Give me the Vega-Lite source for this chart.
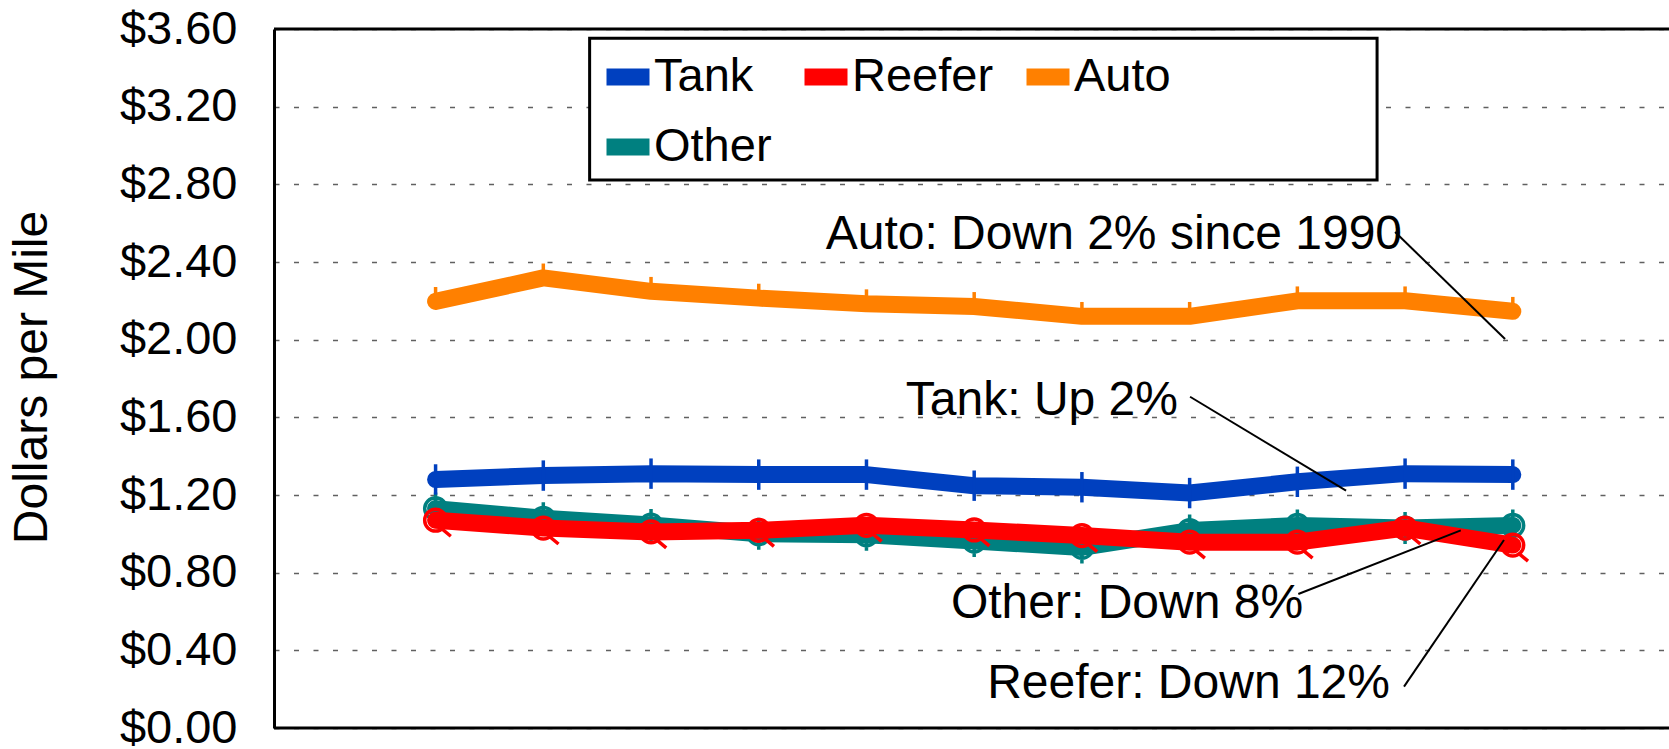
{
  "$schema": "https://vega.github.io/schema/vega-lite/v6.json",
  "autosize": {"type": "none"},
  "padding": {"left": 274, "top": 29, "right": 0, "bottom": 21},
  "width": 1395,
  "height": 699,
  "background": "white",
  "config": {"view": {"stroke": null}, "font": "Liberation Sans"},
  "resolve": {"axis": {"x": "independent", "y": "independent"}, "legend": {"color": "independent", "shape": "independent"}},
  "datasets": {
    "rates": [
      {"series": "Other", "year": 1990, "value": 1.13},
      {"series": "Other", "year": 1991, "value": 1.08},
      {"series": "Other", "year": 1992, "value": 1.045},
      {"series": "Other", "year": 1993, "value": 1.0},
      {"series": "Other", "year": 1994, "value": 0.995},
      {"series": "Other", "year": 1995, "value": 0.963},
      {"series": "Other", "year": 1996, "value": 0.93},
      {"series": "Other", "year": 1997, "value": 1.017},
      {"series": "Other", "year": 1998, "value": 1.043},
      {"series": "Other", "year": 1999, "value": 1.03},
      {"series": "Other", "year": 2000, "value": 1.043},
      {"series": "Tank", "year": 1990, "value": 1.28},
      {"series": "Tank", "year": 1991, "value": 1.3},
      {"series": "Tank", "year": 1992, "value": 1.31},
      {"series": "Tank", "year": 1993, "value": 1.305},
      {"series": "Tank", "year": 1994, "value": 1.305},
      {"series": "Tank", "year": 1995, "value": 1.248},
      {"series": "Tank", "year": 1996, "value": 1.24},
      {"series": "Tank", "year": 1997, "value": 1.21},
      {"series": "Tank", "year": 1998, "value": 1.268},
      {"series": "Tank", "year": 1999, "value": 1.31},
      {"series": "Tank", "year": 2000, "value": 1.305},
      {"series": "Auto", "year": 1990, "value": 2.197},
      {"series": "Auto", "year": 1991, "value": 2.318},
      {"series": "Auto", "year": 1992, "value": 2.249},
      {"series": "Auto", "year": 1993, "value": 2.214},
      {"series": "Auto", "year": 1994, "value": 2.185},
      {"series": "Auto", "year": 1995, "value": 2.171},
      {"series": "Auto", "year": 1996, "value": 2.12},
      {"series": "Auto", "year": 1997, "value": 2.12},
      {"series": "Auto", "year": 1998, "value": 2.2},
      {"series": "Auto", "year": 1999, "value": 2.2},
      {"series": "Auto", "year": 2000, "value": 2.146},
      {"series": "Reefer", "year": 1990, "value": 1.07},
      {"series": "Reefer", "year": 1991, "value": 1.03},
      {"series": "Reefer", "year": 1992, "value": 1.01},
      {"series": "Reefer", "year": 1993, "value": 1.018},
      {"series": "Reefer", "year": 1994, "value": 1.044},
      {"series": "Reefer", "year": 1995, "value": 1.02},
      {"series": "Reefer", "year": 1996, "value": 0.991},
      {"series": "Reefer", "year": 1997, "value": 0.957},
      {"series": "Reefer", "year": 1998, "value": 0.957},
      {"series": "Reefer", "year": 1999, "value": 1.03},
      {"series": "Reefer", "year": 2000, "value": 0.942}
    ]
  },
  "data": {"name": "rates"},
  "layer": [
    {
      "data": {"values": [{}]},
      "mark": {"type": "rect", "fill": "white", "stroke": "black", "strokeWidth": 3},
      "encoding": {
        "x": {"datum": 1991.43, "type": "quantitative", "axis": null},
        "x2": {"datum": 1998.74},
        "y": {"datum": 3.552, "type": "quantitative", "axis": null},
        "y2": {"datum": 2.822}
      }
    },
    {
      "transform": [{"filter": "datum.series === 'Other'"}],
      "mark": {"type": "point", "filled": false, "strokeWidth": 3.5, "opacity": 1, "size": 1024},
      "encoding": {
        "x": {"field": "year", "type": "quantitative", "axis": null},
        "y": {"field": "value", "type": "quantitative", "axis": null},
        "color": {"field": "series", "type": "nominal", "legend": null},
        "shape": {"field": "series", "type": "nominal", "legend": null,
          "scale": {"domain": ["Tank", "Reefer", "Auto", "Other"],
            "range": ["M0,-0.95L0,0.95", "M-0.68,0A0.68,0.68 0 1,0 0.68,0A0.68,0.68 0 1,0 -0.68,0M0.35,0.5L0.95,1.0", "M0,-0.9L0,0", "M0,-1L0,1M-0.68,0A0.68,0.68 0 1,0 0.68,0A0.68,0.68 0 1,0 -0.68,0"]}}
      }
    },
    {
      "mark": {"type": "line", "strokeWidth": 17, "strokeCap": "round", "strokeJoin": "round"},
      "encoding": {
        "x": {"field": "year", "type": "quantitative",
          "scale": {"domain": [1988.5, 2001.45], "nice": false, "zero": false}, "axis": null},
        "y": {"field": "value", "type": "quantitative",
          "scale": {"domain": [0, 3.6], "nice": false, "zero": true},
          "axis": {
            "values": [0, 0.4, 0.8, 1.2, 1.6, 2.0, 2.4, 2.8, 3.2, 3.6],
            "format": "$.2f",
            "labelFontSize": 47, "labelFont": "Liberation Sans", "labelColor": "black",
            "labelPadding": 37, "labelOverlap": false, "labelFlush": false, "labelBaseline": "middle",
            "ticks": false,
            "domain": true, "domainColor": "black", "domainWidth": 3,
            "grid": true, "gridColor": "#606060", "gridDash": [5, 14.5], "gridWidth": 1.3,
            "title": "Dollars per Mile", "titleFontSize": 48, "titleFont": "Liberation Sans",
            "titleFontWeight": "normal", "titleColor": "black",
            "titleX": -242, "titleY": 348, "titleAngle": 270, "titleAlign": "center", "titleBaseline": "middle"
          }},
        "color": {"field": "series", "type": "nominal",
          "scale": {"domain": ["Tank", "Reefer", "Auto", "Other"],
            "range": ["#0040BF", "#FF0000", "#FF8000", "#008080"]},
          "legend": {
            "orient": "none", "legendX": 311, "legendY": 5,
            "direction": "horizontal", "columns": 3, "title": null,
            "symbolType": "stroke", "symbolSize": 1849, "symbolStrokeWidth": 17,
            "labelFontSize": 47, "labelFont": "Liberation Sans", "labelColor": "black",
            "labelOffset": -4, "columnPadding": -2, "rowPadding": 2, "padding": 13,
            "labelLimit": 0, "strokeColor": null
          }}
      }
    },
    {
      "transform": [{"filter": "datum.series !== 'Other'"}],
      "mark": {"type": "point", "filled": false, "strokeWidth": 3.5, "opacity": 1, "size": 1024},
      "encoding": {
        "x": {"field": "year", "type": "quantitative", "axis": null},
        "y": {"field": "value", "type": "quantitative", "axis": null},
        "color": {"field": "series", "type": "nominal", "legend": null},
        "shape": {"field": "series", "type": "nominal", "legend": null}
      }
    },
    {
      "data": {"values": [{}]},
      "mark": {"type": "rule", "color": "black", "strokeWidth": 3},
      "encoding": {"y": {"datum": 3.6, "type": "quantitative", "axis": null}}
    },
    {
      "data": {"values": [{}]},
      "mark": {"type": "rule", "color": "black", "strokeWidth": 3},
      "encoding": {"y": {"datum": 0, "type": "quantitative", "axis": null}}
    },
    {
      "data": {"values": [{}]},
      "mark": {"type": "rule", "color": "black", "strokeWidth": 2},
      "encoding": {"x": {"datum": 1998.907, "type": "quantitative", "axis": null}, "y": {"datum": 2.5545, "type": "quantitative", "axis": null}, "x2": {"datum": 1999.928}, "y2": {"datum": 2.0035}}
    },
    {
      "data": {"values": [{}]},
      "mark": {"type": "rule", "color": "black", "strokeWidth": 2},
      "encoding": {"x": {"datum": 1997.004, "type": "quantitative", "axis": null}, "y": {"datum": 1.706, "type": "quantitative", "axis": null}, "x2": {"datum": 1998.452}, "y2": {"datum": 1.222}}
    },
    {
      "data": {"values": [{}]},
      "mark": {"type": "rule", "color": "black", "strokeWidth": 2},
      "encoding": {"x": {"datum": 1998.009, "type": "quantitative", "axis": null}, "y": {"datum": 0.69, "type": "quantitative", "axis": null}, "x2": {"datum": 1999.517}, "y2": {"datum": 1.018}}
    },
    {
      "data": {"values": [{}]},
      "mark": {"type": "rule", "color": "black", "strokeWidth": 2},
      "encoding": {"x": {"datum": 1998.99, "type": "quantitative", "axis": null}, "y": {"datum": 0.213, "type": "quantitative", "axis": null}, "x2": {"datum": 1999.918}, "y2": {"datum": 0.968}}
    },
    {
      "data": {"values": [{}]},
      "mark": {"type": "text", "text": "Auto: Down 2% since 1990", "align": "right", "baseline": "alphabetic", "fontSize": 48, "font": "Liberation Sans", "color": "black"},
      "encoding": {"x": {"datum": 1998.972, "type": "quantitative", "axis": null}, "y": {"datum": 2.4695, "type": "quantitative", "axis": null}}
    },
    {
      "data": {"values": [{}]},
      "mark": {"type": "text", "text": "Tank: Up 2%", "align": "right", "baseline": "alphabetic", "fontSize": 48, "font": "Liberation Sans", "color": "black"},
      "encoding": {"x": {"datum": 1996.892, "type": "quantitative", "axis": null}, "y": {"datum": 1.612, "type": "quantitative", "axis": null}}
    },
    {
      "data": {"values": [{}]},
      "mark": {"type": "text", "text": "Other: Down 8%", "align": "right", "baseline": "alphabetic", "fontSize": 48, "font": "Liberation Sans", "color": "black"},
      "encoding": {"x": {"datum": 1998.053, "type": "quantitative", "axis": null}, "y": {"datum": 0.565, "type": "quantitative", "axis": null}}
    },
    {
      "data": {"values": [{}]},
      "mark": {"type": "text", "text": "Reefer: Down 12%", "align": "right", "baseline": "alphabetic", "fontSize": 48, "font": "Liberation Sans", "color": "black"},
      "encoding": {"x": {"datum": 1998.86, "type": "quantitative", "axis": null}, "y": {"datum": 0.153, "type": "quantitative", "axis": null}}
    }
  ]
}
